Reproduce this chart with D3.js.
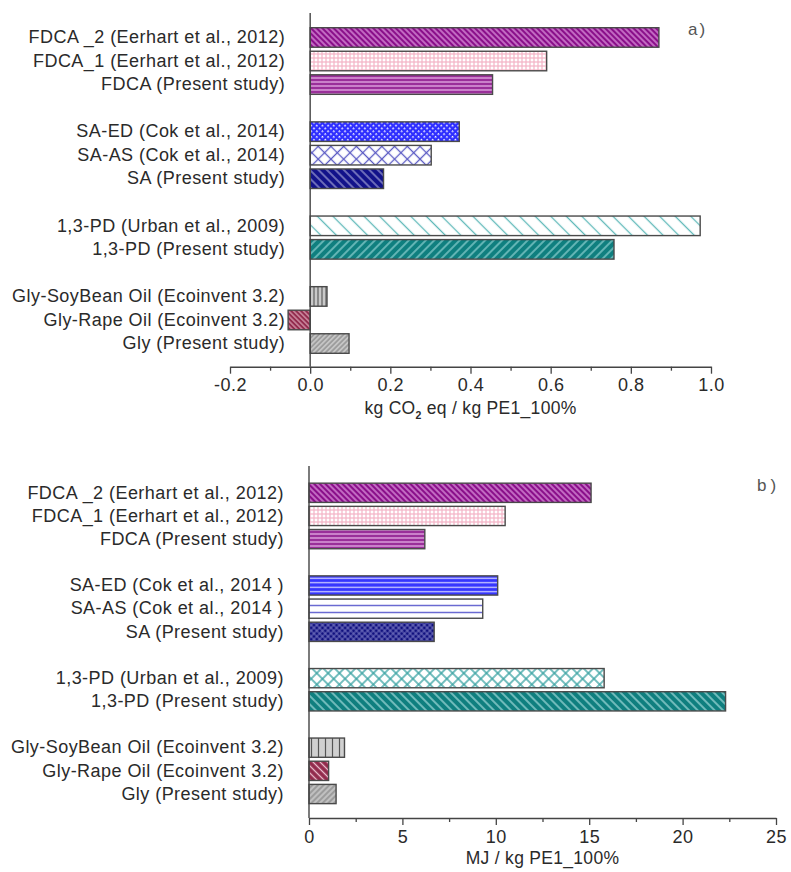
<!DOCTYPE html>
<html>
<head>
<meta charset="utf-8">
<script src="https://cdn.jsdelivr.net/npm/d3@7"></script>
<style>
  body { margin: 0; background: #fff; }
  svg { display: block; }
  text { font-family: "Liberation Sans", Arial, sans-serif; }
</style>
</head>
<body>
<svg id="chart" width="791" height="872"></svg>
<script>
// Process rows, top to bottom, per group (an empty row separates groups)
const groupSizes = [3, 3, 2, 3];
const categoriesA = [
  "FDCA _2 (Eerhart et al., 2012)", "FDCA_1 (Eerhart et al., 2012)", "FDCA (Present study)",
  "SA-ED (Cok et al., 2014)", "SA-AS (Cok et al., 2014)", "SA (Present study)",
  "1,3-PD (Urban et al., 2009)", "1,3-PD (Present study)",
  "Gly-SoyBean Oil (Ecoinvent 3.2)", "Gly-Rape Oil (Ecoinvent 3.2)", "Gly (Present study)"
];
const categoriesB = [
  "FDCA _2 (Eerhart et al., 2012)", "FDCA_1 (Eerhart et al., 2012)", "FDCA (Present study)",
  "SA-ED (Cok et al., 2014 )", "SA-AS (Cok et al., 2014 )", "SA (Present study)",
  "1,3-PD (Urban et al., 2009)", "1,3-PD (Present study)",
  "Gly-SoyBean Oil (Ecoinvent 3.2)", "Gly-Rape Oil (Ecoinvent 3.2)", "Gly (Present study)"
];

// a) climate change, kg CO2 eq per kg PE1_100%
const co2Values = [0.87, 0.59, 0.455, 0.372, 0.302, 0.183, 0.973, 0.758, 0.042, -0.055, 0.097];
// b) energy demand, MJ per kg PE1_100%
const energyValues = [15.1, 10.5, 6.2, 10.1, 9.3, 6.7, 15.8, 22.3, 1.9, 1.05, 1.45];

const co2Ticks = [-0.2, 0.0, 0.2, 0.4, 0.6, 0.8, 1.0];
const co2MinorTicks = [-0.1, 0.1, 0.3, 0.5, 0.7, 0.9];
const energyTicks = [0, 5, 10, 15, 20, 25];
const energyMinorTicks = [2.5, 7.5, 12.5, 17.5, 22.5];

// Hatch styles for each bar (kind, background, line colour, spacing, line width)
const hatchA = [
  ["bslash", "#8a0f8a", "#e7a6e7", 4, 1.2],
  ["grid", "#ffffff", "#f4b3c6", 4, 1.2],
  ["hlines", "#9a2f9a", "#eab8ea", 4, 1.2],
  ["dots", "#2e2eff", "#ffffff", 4, 1.2],
  ["cross", "#ffffff", "#5a5ac4", 9, 1.3],
  ["bslash", "#12128a", "#a9a9d8", 6, 1.2],
  ["bslash", "#ffffff", "#5fb9b9", 11, 1.3],
  ["slash", "#0f7f7f", "#8fd1d1", 6, 1.3],
  ["vlines", "#c9c9c9", "#555555", 4, 1.1],
  ["bslash", "#922a4c", "#e9bccb", 3.5, 1],
  ["slash", "#9c9c9c", "#e4e4e4", 3.5, 1]
];
const hatchB = [
  ["bslash", "#8a0f8a", "#e7a6e7", 4, 1.2],
  ["grid", "#ffffff", "#f4b3c6", 4, 1.2],
  ["hlines", "#9a2f9a", "#eab8ea", 4, 1.2],
  ["hlines", "#3535ff", "#d8d8ff", 4.5, 1.2],
  ["hlines", "#ffffff", "#6a6ad2", 7, 1.5],
  ["cross", "#10107e", "#8c8cd0", 4, 0.8],
  ["cross", "#ffffff", "#3aa3a3", 8, 1.4],
  ["bslash", "#0f7f7f", "#a3dada", 6, 1.3],
  ["vlines", "#d0d0d0", "#555555", 7, 1.2],
  ["bslash", "#922a4c", "#e9bccb", 5, 1.3],
  ["slash", "#9c9c9c", "#e4e4e4", 4, 1]
];

const svg = d3.select("#chart");
const defs = svg.append("defs");

function makePattern(id, spec) {
  const [kind, bg, fg, s, w] = spec;
  const p = defs.append("pattern")
    .attr("id", id)
    .attr("patternUnits", "userSpaceOnUse")
    .attr("width", s).attr("height", s);
  if (kind === "slash") p.attr("patternTransform", "rotate(45)");
  if (kind === "bslash") p.attr("patternTransform", "rotate(-45)");
  if (kind === "cross" || kind === "dots") p.attr("patternTransform", "rotate(45)");
  p.append("rect").attr("width", s).attr("height", s).attr("fill", bg);
  const line = (x1, y1, x2, y2) => p.append("line")
    .attr("x1", x1).attr("y1", y1).attr("x2", x2).attr("y2", y2)
    .attr("stroke", fg).attr("stroke-width", w);
  if (kind === "slash" || kind === "bslash" || kind === "vlines") line(s / 2, 0, s / 2, s);
  if (kind === "hlines") line(0, s / 2, s, s / 2);
  if (kind === "grid" || kind === "cross") { line(s / 2, 0, s / 2, s); line(0, s / 2, s, s / 2); }
  if (kind === "dots") {
    p.append("rect").attr("x", 0).attr("y", 0).attr("width", w + 0.4).attr("height", w + 0.4).attr("fill", fg);
  }
}

// Row slots: categories plus one blank slot between consecutive groups
function slotsFor(categories) {
  const slots = [];
  let k = 0;
  groupSizes.forEach((n, g) => {
    if (g > 0) slots.push("__gap" + g);
    for (let i = 0; i < n; i++) slots.push(categories[k++]);
  });
  return slots;
}

function panel(opts) {
  const { categories, values, hatch, domain, xRange, bandRange, plotTop, axisY,
          ticks, minorTicks, tickFmt, tickPad, title, panelLabel, id } = opts;

  const x = d3.scaleLinear().domain(domain).range(xRange);
  const y = d3.scaleBand().domain(slotsFor(categories)).range(bandRange)
    .paddingInner(0.17).paddingOuter(0.085);

  const g = svg.append("g");

  hatch.forEach((spec, i) => makePattern(id + "-h" + i, spec));

  // bars
  g.selectAll("rect.bar")
    .data(values.map((v, i) => ({ v, i, c: categories[i] })))
    .join("rect")
    .attr("class", "bar")
    .attr("x", d => x(Math.min(0, d.v)))
    .attr("width", d => Math.abs(x(d.v) - x(0)))
    .attr("y", d => y(d.c))
    .attr("height", y.bandwidth())
    .attr("fill", d => `url(#${id}-h${d.i})`)
    .attr("stroke", "#4a4a4a")
    .attr("stroke-width", 1.4);

  // category labels
  const yAxis = d3.axisLeft(y).tickValues(categories).tickSize(0).tickPadding(25);
  const ya = g.append("g").attr("transform", `translate(${x(0)},0)`).call(yAxis);
  ya.select(".domain").remove();
  ya.selectAll("text")
    .attr("font-size", 18).attr("letter-spacing", 0.45).attr("fill", "#2a2a2a")
    .attr("font-family", "'Liberation Sans', Arial, sans-serif");

  // vertical axis line at zero
  g.append("line")
    .attr("x1", x(0)).attr("x2", x(0))
    .attr("y1", plotTop).attr("y2", axisY)
    .attr("stroke", "#444").attr("stroke-width", 1.4);

  // bottom axis: minor then major ticks
  const minor = d3.axisBottom(x).tickValues(minorTicks).tickSize(4).tickFormat("").tickSizeOuter(0);
  const gm = g.append("g").attr("transform", `translate(0,${axisY})`).call(minor);
  gm.select(".domain").remove();
  gm.selectAll("line").attr("stroke", "#444").attr("stroke-width", 1.3);

  const major = d3.axisBottom(x).tickValues(ticks).tickSize(7).tickSizeOuter(0)
    .tickPadding(tickPad).tickFormat(tickFmt);
  const ga = g.append("g").attr("transform", `translate(0,${axisY})`).call(major);
  ga.select(".domain").attr("stroke", "#444").attr("stroke-width", 1.4);
  ga.selectAll("line").attr("stroke", "#444").attr("stroke-width", 1.3);
  ga.selectAll("text")
    .attr("font-size", 18).attr("letter-spacing", 0.5).attr("fill", "#2a2a2a")
    .attr("font-family", "'Liberation Sans', Arial, sans-serif");

  // axis title
  const t = g.append("text")
    .attr("x", (xRange[0] + xRange[1]) / 2)
    .attr("y", title.y)
    .attr("text-anchor", "middle")
    .attr("font-size", 17.5).attr("letter-spacing", 0.3).attr("fill", "#2a2a2a");
  title.parts.forEach(p => {
    const ts = t.append("tspan").text(p.t);
    if (p.sub) ts.attr("font-size", 10.5).attr("font-weight", "bold").attr("dy", 5);
    if (p.after) ts.attr("dy", -5);
  });

  // panel letter
  g.append("text")
    .attr("x", panelLabel.x).attr("y", panelLabel.y)
    .attr("font-size", 17).attr("letter-spacing", panelLabel.ls).attr("fill", "#555")
    .text(panelLabel.t);
}

// plain hyphen for negative tick labels
const fmtOne = v => d3.format(".1f")(v).replace("\u2212", "-");

panel({
  id: "a",
  categories: categoriesA,
  values: co2Values,
  hatch: hatchA,
  domain: [-0.2, 1.0],
  xRange: [230, 711],
  bandRange: [25.7, 355.3],
  plotTop: 13,
  axisY: 366.7,
  ticks: co2Ticks,
  minorTicks: co2MinorTicks,
  tickFmt: fmtOne,
  tickPad: 5,
  title: { y: 414, parts: [{ t: "kg CO" }, { t: "2", sub: true }, { t: " eq / kg PE1_100%", after: true }] },
  panelLabel: { t: "a)", x: 688, y: 35, ls: 2 }
});

panel({
  id: "b",
  categories: categoriesB,
  values: energyValues,
  hatch: hatchB,
  domain: [0, 25],
  xRange: [309, 776],
  bandRange: [481.2, 805.6],
  plotTop: 466,
  axisY: 818,
  ticks: energyTicks,
  minorTicks: energyMinorTicks,
  tickFmt: d3.format("d"),
  tickPad: 5,
  title: { y: 864, parts: [{ t: "MJ / kg PE1_100%" }] },
  panelLabel: { t: "b)", x: 757, y: 491, ls: 4 }
});
</script>
</body>
</html>
